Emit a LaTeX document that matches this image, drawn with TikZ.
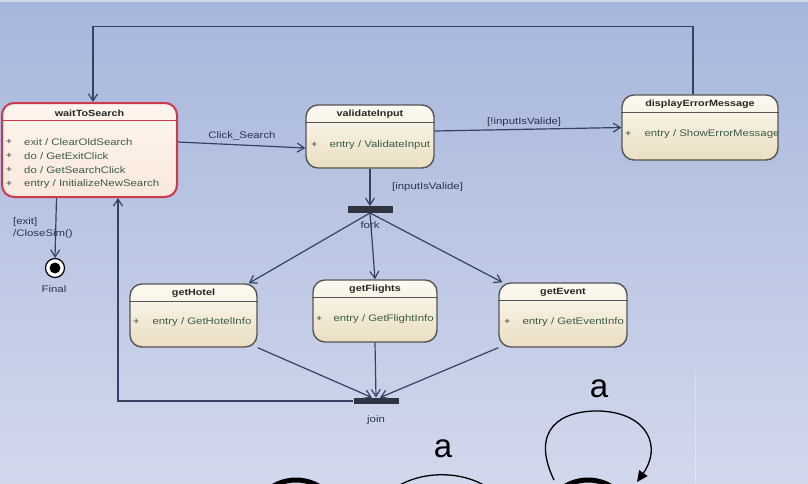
\documentclass[tikz,border=0pt]{standalone}
\usepackage{fontspec}
\setmainfont{Liberation Sans}
\newfontfamily\uifont[FakeStretch=1.2]{Liberation Sans}
\usetikzlibrary{arrows.meta,calc}
\definecolor{bgtop}{RGB}{166,182,220}
\definecolor{bgbot}{RGB}{210,216,236}
\definecolor{boxtop}{RGB}{253,250,242}
\definecolor{boxbot}{RGB}{234,222,194}
\definecolor{boxline}{RGB}{85,85,85}
\definecolor{redline}{RGB}{204,56,76}
\definecolor{pinktop}{RGB}{253,245,238}
\definecolor{pinkbot}{RGB}{250,232,220}
\definecolor{conn}{RGB}{52,66,98}
\definecolor{itemtxt}{RGB}{58,92,72}
\definecolor{bartone}{RGB}{48,52,66}
\begin{document}
\begin{tikzpicture}[x=1pt,y=-1pt,
 statebox/.style={draw=boxline, line width=1.4pt, rounded corners=12pt, top color=boxtop, bottom color=boxbot, inner sep=0pt},
 ttl/.style={font=\uifont\bfseries\fontsize{9}{10}\selectfont, text=black!85, inner sep=0pt},
 itm/.style={font=\uifont\fontsize{9.5}{11}\selectfont, text=itemtxt, anchor=west, inner sep=0pt},
 plus/.style={font=\uifont\fontsize{9}{10}\selectfont, text=itemtxt!70!black, inner sep=0pt},
 lbl/.style={font=\uifont\fontsize{9.5}{11}\selectfont, text=conn!80!black, inner sep=0pt},
 flow/.style={draw=conn, line width=1.2pt, -{Straight Barb[length=7pt,width=9pt]}},
 bar/.style={fill=bartone, draw=none, minimum width=45pt, minimum height=6.5pt, inner sep=0pt},
 hdr/.style={draw=boxline, line width=1pt},
 blk/.style={draw=black, line width=1.3pt},
 biga/.style={font=\fontsize{33}{36}\selectfont, inner sep=0pt},
]
% background
\fill[top color=bgtop, bottom color=bgbot] (0,0) rectangle (808,483);
\useasboundingbox (0,0) rectangle (808,483);
\clip (0,0) rectangle (808,483);
\fill[white, opacity=.5] (0,0) rectangle (808,2);
\draw[white, opacity=.3, line width=1pt] (695,372) -- (695,483);

% states
\node[statebox, draw=redline, line width=2pt, top color=pinktop, bottom color=pinkbot, minimum width=175pt, minimum height=94pt] (wts) at (89.5,150) {};
\draw[hdr, draw=redline] ($(wts.north west)+(0,18)$) -- ($(wts.north east)+(0,18)$);
\node[ttl] at ($(wts.north)+(0,11)$) {waitToSearch};
\node[plus] at ($(wts.north west)+(8,40)$) {+};
\node[itm] at ($(wts.north west)+(23,40)$) {exit / ClearOldSearch};
\node[plus] at ($(wts.north west)+(8,54)$) {+};
\node[itm] at ($(wts.north west)+(23,54)$) {do / GetExitClick};
\node[plus] at ($(wts.north west)+(8,68)$) {+};
\node[itm] at ($(wts.north west)+(23,68)$) {do / GetSearchClick};
\node[plus] at ($(wts.north west)+(8,82)$) {+};
\node[itm] at ($(wts.north west)+(23,82)$) {entry / InitializeNewSearch};

\node[statebox, minimum width=128pt, minimum height=63pt] (vi) at (370,136.5) {};
\draw[hdr] ($(vi.north west)+(0,18)$) -- ($(vi.north east)+(0,18)$);
\node[ttl] at ($(vi.north)+(0,10)$) {validateInput};
\node[plus] at ($(vi.north west)+(9,41)$) {+};
\node[itm] at ($(vi.north west)+(24,41)$) {entry / ValidateInput};

\node[statebox, minimum width=156pt, minimum height=65pt] (dem) at (700,127.5) {};
\draw[hdr] ($(dem.north west)+(0,18)$) -- ($(dem.north east)+(0,18)$);
\node[ttl] at ($(dem.north)+(0,10)$) {displayErrorMessage};
\node[plus] at ($(dem.north west)+(7,40)$) {+};
\node[itm] at ($(dem.north west)+(23,40)$) {entry / ShowErrorMessage};

\node[statebox, minimum width=127pt, minimum height=63pt] (gh) at (193.5,315.5) {};
\draw[hdr] ($(gh.north west)+(0,18)$) -- ($(gh.north east)+(0,18)$);
\node[ttl] at ($(gh.north)+(0,10)$) {getHotel};
\node[plus] at ($(gh.north west)+(7,39)$) {+};
\node[itm] at ($(gh.north west)+(23,39)$) {entry / GetHotelInfo};

\node[statebox, minimum width=124pt, minimum height=62pt] (gf) at (375,311) {};
\draw[hdr] ($(gf.north west)+(0,18)$) -- ($(gf.north east)+(0,18)$);
\node[ttl] at ($(gf.north)+(0,10)$) {getFlights};
\node[plus] at ($(gf.north west)+(7,40)$) {+};
\node[itm] at ($(gf.north west)+(21,40)$) {entry / GetFlightInfo};

\node[statebox, minimum width=128pt, minimum height=64pt] (ge) at (563,315) {};
\draw[hdr] ($(ge.north west)+(0,18)$) -- ($(ge.north east)+(0,18)$);
\node[ttl] at ($(ge.north)+(0,10)$) {getEvent};
\node[plus] at ($(ge.north west)+(9,40)$) {+};
\node[itm] at ($(ge.north west)+(24,40)$) {entry / GetEventInfo};

% fork / join / final
\node[bar] (fork) at (370,209.5) {};
\node[lbl] (forkl) at (370,225) {fork};
\node[bar] (join) at (376,401) {};
\node[lbl] (joinl) at (376,420) {join};
\node[circle, draw=black, line width=1.2pt, fill=white, minimum size=19pt, inner sep=0pt] (fin) at (55,268) {};
\fill[black] (fin.center) circle (5.5pt);
\node[lbl] (finl) at (54,289) {Final};

% transitions
\draw[flow] ([yshift=8pt]wts.east) -- ([yshift=-11.5pt]vi.west);
\node[lbl] (l1) at (242,136) {Click\_Search};
\draw[flow] ([yshift=5.5pt]vi.east) -- (dem.west);
\node[lbl, anchor=west] (l2) at (487,122) {[!inputIsValide]};
\draw[flow] ([xshift=-7pt]dem.north) -- ++(0,-68) -| ([xshift=3.5pt]wts.north);
\draw[flow] (vi.south) -- (fork.north);
\node[lbl, anchor=west] (l3) at (392,187) {[inputIsValide]};
\draw[flow] (fork.south) -- ([xshift=-9pt]gh.north east);
\draw[flow] (fork.south) -- (gf.north);
\draw[flow] (fork.south) -- ([xshift=4pt]ge.north west);
\draw[flow] (gh.south east) -- ([xshift=-4pt]join.north);
\draw[flow] (gf.south) -- (join.north);
\draw[flow] (ge.south west) -- ([xshift=4pt]join.north);
\draw[flow] (join.west) -| ([xshift=28.5pt]wts.south);
\draw[flow] ([xshift=-33pt]wts.south) -- (fin.north);
\node[lbl, anchor=west] (l4) at (13,222) {[exit]};
\node[lbl, anchor=west] (l5) at (13,234) {/CloseSim()};

% fragment of another picture at the bottom
\draw[black, line width=5pt] (296,525) circle (45pt);
\draw[black, line width=5pt] (588,525) circle (45pt);
\draw[blk] (390,492) .. controls (415,470) and (465,468) .. (494,492);
\draw[blk, -{Triangle[length=11pt,width=10pt]}] (554,480) .. controls (530,430) and (560,410) .. (600,411) .. controls (648,413) and (662,447) .. (637,482);
\node[biga] (a1) at (443,449) {a};
\node[biga] (a2) at (599,389) {a};
\end{tikzpicture}
\end{document}
